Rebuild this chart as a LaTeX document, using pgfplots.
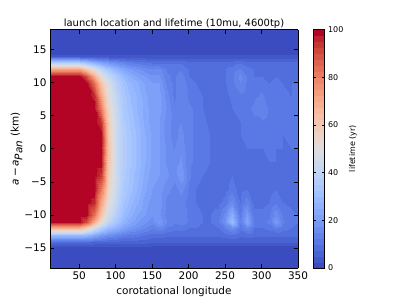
\documentclass[border=0pt]{standalone}
\usepackage{fontspec}
\setmainfont{DejaVu Sans}
\usepackage{pgfplots}
\pgfplotsset{compat=1.18}
\pgfplotsset{colormap={coolwarm}{rgb255=(59,76,192) rgb255=(68,90,204) rgb255=(77,104,215) rgb255=(87,117,225) rgb255=(98,130,234) rgb255=(108,142,241) rgb255=(119,154,247) rgb255=(130,165,251) rgb255=(141,176,254) rgb255=(152,185,255) rgb255=(163,194,255) rgb255=(174,201,253) rgb255=(184,208,249) rgb255=(194,213,244) rgb255=(204,217,238) rgb255=(213,219,230) rgb255=(221,221,221) rgb255=(229,216,209) rgb255=(236,211,197) rgb255=(241,204,185) rgb255=(245,196,173) rgb255=(247,187,160) rgb255=(247,177,148) rgb255=(247,166,135) rgb255=(244,154,123) rgb255=(241,141,111) rgb255=(236,127,99) rgb255=(229,112,88) rgb255=(222,96,77) rgb255=(213,80,66) rgb255=(203,62,56) rgb255=(192,40,47) rgb255=(180,4,38)}}
\begin{document}
\begin{tikzpicture}
\useasboundingbox (-50bp,-31bp) rectangle (349bp,268bp);
\begin{axis}[
  at={(0,0)}, anchor=south west,
  scale only axis, width=248bp, height=238.5bp,
  view={0}{90},
  xmin=10, xmax=350, ymin=-18, ymax=18,
  xtick={50,100,150,200,250,300,350},
  ytick={-15,-10,-5,0,5,10,15},
  yticklabels={−15,−10,−5,0,5,10,15},
  tick align=inside,
  major tick length=4bp,
  tick style={black, line width=0.6pt},
  axis line style={black, line width=0.8pt},
  ticklabel style={font=\fontsize{10.5}{12}\selectfont},
  /pgf/number format/assume math mode=true,
  xlabel={corotational longitude},
  ylabel={\textit{a}\,−\,\textit{a}$_{\textit{Pan}}$ (km)},
  title={launch location and lifetime (10mu, 4600tp)},
  title style={font=\fontsize{10}{12}\selectfont, yshift=-9bp},
  label style={font=\fontsize{10.5}{12}\selectfont},
  ylabel style={yshift=-5bp},
  colormap name=coolwarm,
  point meta min=0, point meta max=100,
  axis on top,
  colorbar sampled,
  colorbar style={
    samples=41,
    at={(parent axis.north east)}, anchor=north west, xshift=6.5bp,
    width=11.6bp,
    ytick={0,20,40,60,80,100},
    yticklabel pos=right,
    tick align=inside, major tick length=3bp,
    tick style={black, line width=0.6pt},
    axis line style={black, line width=0.8pt},
    yticklabel style={font=\fontsize{8}{9}\selectfont},
    /pgf/number format/assume math mode=true,
    ylabel={lifetime (yr)},
    ylabel style={font=\fontsize{8}{9}\selectfont, at={(axis description cs:1,0.5)}, anchor=north, yshift=-21bp},
  },
]
\addplot3[contour filled={number=40}, mesh/cols=35] coordinates {
(10,-18,1) (20,-18,1) (30,-18,1) (40,-18,1) (50,-18,1) (60,-18,1) (70,-18,1) (80,-18,1) (90,-18,1) (100,-18,1) (110,-18,1) (120,-18,1) (130,-18,1) (140,-18,1) (150,-18,1) (160,-18,1) (170,-18,1) (180,-18,1) (190,-18,1) (200,-18,1) (210,-18,1) (220,-18,1) (230,-18,1) (240,-18,1) (250,-18,1) (260,-18,1) (270,-18,1) (280,-18,1) (290,-18,1) (300,-18,1) (310,-18,1) (320,-18,1) (330,-18,1) (340,-18,1) (350,-18,1)
(10,-15,1) (20,-15,1) (30,-15,1) (40,-15,1) (50,-15,1) (60,-15,1) (70,-15,1) (80,-15,1) (90,-15,1) (100,-15,1) (110,-15,1) (120,-15,1) (130,-15,1) (140,-15,1) (150,-15,1) (160,-15,1) (170,-15,1) (180,-15,1) (190,-15,1) (200,-15,1) (210,-15,1) (220,-15,1) (230,-15,1) (240,-15,1) (250,-15,1) (260,-15,1) (270,-15,1) (280,-15,1) (290,-15,1) (300,-15,1) (310,-15,1) (320,-15,1) (330,-15,1) (340,-15,1) (350,-15,1)
(10,-14,8) (20,-14,8) (30,-14,8) (40,-14,8) (50,-14,8) (60,-14,8) (70,-14,7) (80,-14,7) (90,-14,6.5) (100,-14,6.5) (110,-14,6) (120,-14,6) (130,-14,6) (140,-14,6) (150,-14,5.5) (160,-14,5.5) (170,-14,5.5) (180,-14,5.5) (190,-14,5.5) (200,-14,5.5) (210,-14,5.5) (220,-14,5.5) (230,-14,5.5) (240,-14,5.5) (250,-14,5.5) (260,-14,5.5) (270,-14,5.5) (280,-14,5.5) (290,-14,5.5) (300,-14,5.5) (310,-14,5.5) (320,-14,5.5) (330,-14,5.5) (340,-14,5.5) (350,-14,5.5)
(10,-13,30) (20,-13,30) (30,-13,30) (40,-13,30) (50,-13,30) (60,-13,28) (70,-13,24) (80,-13,20) (90,-13,17) (100,-13,15) (110,-13,13) (120,-13,12) (130,-13,11) (140,-13,10) (150,-13,9) (160,-13,9) (170,-13,8) (180,-13,8) (190,-13,8) (200,-13,8) (210,-13,8) (220,-13,8) (230,-13,8) (240,-13,8) (250,-13,9) (260,-13,10) (270,-13,8) (280,-13,9) (290,-13,8) (300,-13,8) (310,-13,8) (320,-13,8) (330,-13,8) (340,-13,8) (350,-13,8)
(10,-12,68) (20,-12,68) (30,-12,68) (40,-12,68) (50,-12,68) (60,-12,58) (70,-12,46) (80,-12,36) (90,-12,30) (100,-12,26) (110,-12,22) (120,-12,19) (130,-12,17) (140,-12,15) (150,-12,13) (160,-12,15) (170,-12,12) (180,-12,11) (190,-12,11) (200,-12,10) (210,-12,10) (220,-12,9) (230,-12,9) (240,-12,10) (250,-12,13) (260,-12,17) (270,-12,11) (280,-12,15) (290,-12,10) (300,-12,10) (310,-12,11) (320,-12,13) (330,-12,11) (340,-12,10) (350,-12,9)
(10,-11,100) (20,-11,100) (30,-11,100) (40,-11,100) (50,-11,100) (60,-11,90) (70,-11,70) (80,-11,52) (90,-11,40) (100,-11,33) (110,-11,27) (120,-11,23) (130,-11,20) (140,-11,18) (150,-11,16) (160,-11,20) (170,-11,15) (180,-11,13) (190,-11,14) (200,-11,12) (210,-11,11) (220,-11,10) (230,-11,10) (240,-11,12) (250,-11,18) (260,-11,30) (270,-11,13) (280,-11,23) (290,-11,12) (300,-11,12) (310,-11,13) (320,-11,20) (330,-11,13) (340,-11,11) (350,-11,10)
(10,-10,100) (20,-10,100) (30,-10,100) (40,-10,100) (50,-10,100) (60,-10,100) (70,-10,84) (80,-10,62) (90,-10,46) (100,-10,37) (110,-10,30) (120,-10,26) (130,-10,22) (140,-10,20) (150,-10,18) (160,-10,18) (170,-10,14) (180,-10,13) (190,-10,14) (200,-10,12) (210,-10,11) (220,-10,10) (230,-10,10) (240,-10,11) (250,-10,16) (260,-10,25) (270,-10,12) (280,-10,20) (290,-10,11) (300,-10,11) (310,-10,12) (320,-10,17) (330,-10,12) (340,-10,11) (350,-10,10)
(10,-8,100) (20,-8,100) (30,-8,100) (40,-8,100) (50,-8,100) (60,-8,100) (70,-8,96) (80,-8,72) (90,-8,52) (100,-8,41) (110,-8,33) (120,-8,29) (130,-8,25) (140,-8,21) (150,-8,19) (160,-8,19) (170,-8,14) (180,-8,13) (190,-8,14) (200,-8,11) (210,-8,10) (220,-8,9) (230,-8,9) (240,-8,9) (250,-8,11) (260,-8,16) (270,-8,10) (280,-8,14) (290,-8,9) (300,-8,9) (310,-8,10) (320,-8,12) (330,-8,10) (340,-8,9) (350,-8,9)
(10,-6,100) (20,-6,100) (30,-6,100) (40,-6,100) (50,-6,100) (60,-6,100) (70,-6,100) (80,-6,82) (90,-6,56) (100,-6,43) (110,-6,35) (120,-6,31) (130,-6,27) (140,-6,23) (150,-6,20) (160,-6,19) (170,-6,16) (180,-6,14) (190,-6,16) (200,-6,12) (210,-6,10) (220,-6,9) (230,-6,9) (240,-6,8) (250,-6,9) (260,-6,11) (270,-6,9) (280,-6,10) (290,-6,9) (300,-6,8) (310,-6,9) (320,-6,10) (330,-6,9) (340,-6,8) (350,-6,9)
(10,-4,100) (20,-4,100) (30,-4,100) (40,-4,100) (50,-4,100) (60,-4,100) (70,-4,100) (80,-4,94) (90,-4,60) (100,-4,44) (110,-4,36) (120,-4,32) (130,-4,28) (140,-4,24) (150,-4,21) (160,-4,20) (170,-4,18) (180,-4,16) (190,-4,20) (200,-4,13) (210,-4,11) (220,-4,10) (230,-4,9) (240,-4,9) (250,-4,9) (260,-4,10) (270,-4,9) (280,-4,9) (290,-4,9) (300,-4,9) (310,-4,9) (320,-4,9) (330,-4,10) (340,-4,9) (350,-4,9)
(10,-2,100) (20,-2,100) (30,-2,100) (40,-2,100) (50,-2,100) (60,-2,100) (70,-2,100) (80,-2,100) (90,-2,62) (100,-2,44) (110,-2,37) (120,-2,33) (130,-2,29) (140,-2,25) (150,-2,22) (160,-2,20) (170,-2,17) (180,-2,16) (190,-2,18) (200,-2,13) (210,-2,12) (220,-2,11) (230,-2,10) (240,-2,10) (250,-2,10) (260,-2,10) (270,-2,10) (280,-2,10) (290,-2,10) (300,-2,10) (310,-2,10) (320,-2,10) (330,-2,10) (340,-2,10) (350,-2,10)
(10,0,100) (20,0,100) (30,0,100) (40,0,100) (50,0,100) (60,0,100) (70,0,100) (80,0,100) (90,0,64) (100,0,44) (110,0,37) (120,0,33) (130,0,29) (140,0,25) (150,0,22) (160,0,20) (170,0,17) (180,0,15) (190,0,17) (200,0,13) (210,0,12) (220,0,11) (230,0,10) (240,0,10) (250,0,10) (260,0,10) (270,0,10) (280,0,10) (290,0,10) (300,0,10) (310,0,11) (320,0,10) (330,0,10) (340,0,10) (350,0,10)
(10,2,100) (20,2,100) (30,2,100) (40,2,100) (50,2,100) (60,2,100) (70,2,100) (80,2,100) (90,2,62) (100,2,44) (110,2,37) (120,2,33) (130,2,29) (140,2,25) (150,2,22) (160,2,20) (170,2,16) (180,2,14) (190,2,16) (200,2,13) (210,2,12) (220,2,11) (230,2,10) (240,2,10) (250,2,10) (260,2,10) (270,2,10) (280,2,11) (290,2,11) (300,2,11) (310,2,11) (320,2,11) (330,2,10) (340,2,11) (350,2,11)
(10,4,100) (20,4,100) (30,4,100) (40,4,100) (50,4,100) (60,4,100) (70,4,100) (80,4,94) (90,4,60) (100,4,44) (110,4,36) (120,4,32) (130,4,28) (140,4,24) (150,4,21) (160,4,20) (170,4,16) (180,4,14) (190,4,15) (200,4,13) (210,4,12) (220,4,11) (230,4,9) (240,4,9) (250,4,10) (260,4,10) (270,4,10) (280,4,11) (290,4,12) (300,4,12) (310,4,11) (320,4,11) (330,4,11) (340,4,11) (350,4,11)
(10,6,100) (20,6,100) (30,6,100) (40,6,100) (50,6,100) (60,6,100) (70,6,100) (80,6,82) (90,6,56) (100,6,43) (110,6,35) (120,6,31) (130,6,27) (140,6,24) (150,6,21) (160,6,21) (170,6,17) (180,6,13) (190,6,15) (200,6,13) (210,6,12) (220,6,10) (230,6,8) (240,6,8) (250,6,9) (260,6,10) (270,6,11) (280,6,12) (290,6,13) (300,6,15) (310,6,12) (320,6,11) (330,6,11) (340,6,11) (350,6,11)
(10,8,100) (20,8,100) (30,8,100) (40,8,100) (50,8,100) (60,8,100) (70,8,96) (80,8,72) (90,8,52) (100,8,41) (110,8,34) (120,8,30) (130,8,27) (140,8,23) (150,8,21) (160,8,21) (170,8,16) (180,8,12) (190,8,14) (200,8,12) (210,8,11) (220,8,10) (230,8,8) (240,8,8) (250,8,9) (260,8,11) (270,8,12) (280,8,11) (290,8,12) (300,8,13) (310,8,11) (320,8,12) (330,8,11) (340,8,10) (350,8,11)
(10,10,100) (20,10,100) (30,10,100) (40,10,100) (50,10,100) (60,10,100) (70,10,84) (80,10,62) (90,10,48) (100,10,38) (110,10,32) (120,10,28) (130,10,25) (140,10,22) (150,10,20) (160,10,20) (170,10,14) (180,10,12) (190,10,15) (200,10,11) (210,10,10) (220,10,10) (230,10,9) (240,10,9) (250,10,10) (260,10,12) (270,10,15) (280,10,12) (290,10,11) (300,10,11) (310,10,10) (320,10,11) (330,10,10) (340,10,10) (350,10,10)
(10,11,100) (20,11,100) (30,11,100) (40,11,100) (50,11,100) (60,11,90) (70,11,70) (80,11,52) (90,11,42) (100,11,35) (110,11,29) (120,11,25) (130,11,22) (140,11,20) (150,11,18) (160,11,18) (170,11,13) (180,11,12) (190,11,14) (200,11,10) (210,11,10) (220,11,9) (230,11,9) (240,11,10) (250,11,10) (260,11,12) (270,11,16) (280,11,12) (290,11,10) (300,11,10) (310,11,9) (320,11,10) (330,11,9) (340,11,9) (350,11,9)
(10,12,72) (20,12,72) (30,12,72) (40,12,72) (50,12,72) (60,12,62) (70,12,50) (80,12,40) (90,12,33) (100,12,27) (110,12,23) (120,12,20) (130,12,18) (140,12,16) (150,12,15) (160,12,16) (170,12,12) (180,12,11) (190,12,12) (200,12,10) (210,12,10) (220,12,9) (230,12,9) (240,12,9) (250,12,10) (260,12,11) (270,12,13) (280,12,11) (290,12,10) (300,12,10) (310,12,9) (320,12,10) (330,12,9) (340,12,9) (350,12,9)
(10,13,38) (20,13,38) (30,13,38) (40,13,38) (50,13,38) (60,13,34) (70,13,28) (80,13,24) (90,13,20) (100,13,17) (110,13,15) (120,13,13) (130,13,12) (140,13,11) (150,13,10) (160,13,10) (170,13,10) (180,13,10) (190,13,10) (200,13,9) (210,13,9) (220,13,9) (230,13,9) (240,13,9) (250,13,9) (260,13,9) (270,13,10) (280,13,9) (290,13,9) (300,13,9) (310,13,9) (320,13,9) (330,13,9) (340,13,9) (350,13,9)
(10,14,3) (20,14,3) (30,14,3) (40,14,3) (50,14,3) (60,14,3) (70,14,3) (80,14,3) (90,14,3) (100,14,3) (110,14,3) (120,14,3) (130,14,3) (140,14,3) (150,14,3) (160,14,3) (170,14,3) (180,14,3) (190,14,3) (200,14,3) (210,14,3) (220,14,3) (230,14,3) (240,14,3) (250,14,3) (260,14,3) (270,14,3) (280,14,3) (290,14,3) (300,14,3) (310,14,3) (320,14,3) (330,14,3) (340,14,3) (350,14,3)
(10,15,1) (20,15,1) (30,15,1) (40,15,1) (50,15,1) (60,15,1) (70,15,1) (80,15,1) (90,15,1) (100,15,1) (110,15,1) (120,15,1) (130,15,1) (140,15,1) (150,15,1) (160,15,1) (170,15,1) (180,15,1) (190,15,1) (200,15,1) (210,15,1) (220,15,1) (230,15,1) (240,15,1) (250,15,1) (260,15,1) (270,15,1) (280,15,1) (290,15,1) (300,15,1) (310,15,1) (320,15,1) (330,15,1) (340,15,1) (350,15,1)
(10,18,1) (20,18,1) (30,18,1) (40,18,1) (50,18,1) (60,18,1) (70,18,1) (80,18,1) (90,18,1) (100,18,1) (110,18,1) (120,18,1) (130,18,1) (140,18,1) (150,18,1) (160,18,1) (170,18,1) (180,18,1) (190,18,1) (200,18,1) (210,18,1) (220,18,1) (230,18,1) (240,18,1) (250,18,1) (260,18,1) (270,18,1) (280,18,1) (290,18,1) (300,18,1) (310,18,1) (320,18,1) (330,18,1) (340,18,1) (350,18,1)
};
\end{axis}
\end{tikzpicture}
\end{document}
